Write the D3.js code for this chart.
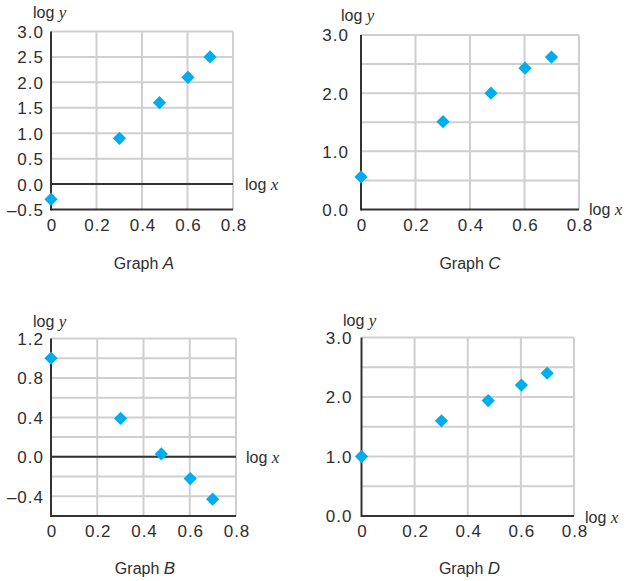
<!DOCTYPE html>
<html>
<head>
<meta charset="utf-8">
<script src="https://cdn.jsdelivr.net/npm/d3@7/dist/d3.min.js"></script>
<style>
  html, body { margin: 0; padding: 0; background: #fff; }
  svg { display: block; }
  .tick text { font-family: "Liberation Sans", Arial, sans-serif; }
</style>
</head>
<body>
<svg id="chart" width="628" height="581"></svg>
<script>
// ---------- data ----------
const logX = [0, 0.301, 0.477, 0.602, 0.699];
const graphA_logY = [-0.3, 0.9, 1.6, 2.1, 2.5];
const graphB_logY = [1.0, 0.39, 0.03, -0.22, -0.43];
const graphC_logY = [0.56, 1.51, 2.0, 2.43, 2.62];
const graphD_logY = [1.0, 1.6, 1.94, 2.2, 2.4];

const xTicks = [0, 0.2, 0.4, 0.6, 0.8];
const xTickLabels = ["0", "0.2", "0.4", "0.6", "0.8"];

const yGridA = [-0.5, 0, 0.5, 1.0, 1.5, 2.0, 2.5, 3.0];
const yTicksA = [-0.5, 0, 0.5, 1.0, 1.5, 2.0, 2.5, 3.0];
const yTickLabelsA = ["\u20130.5", "0.0", "0.5", "1.0", "1.5", "2.0", "2.5", "3.0"];

const yGridB = [-0.6, -0.4, -0.2, 0, 0.2, 0.4, 0.6, 0.8, 1.0, 1.2];
const yTicksB = [-0.4, 0, 0.4, 0.8, 1.2];
const yTickLabelsB = ["\u20130.4", "0.0", "0.4", "0.8", "1.2"];

const yGridCD = [0, 0.5, 1.0, 1.5, 2.0, 2.5, 3.0];
const yTicksCD = [0, 1, 2, 3];
const yTickLabelsCD = ["0.0", "1.0", "2.0", "3.0"];

const graphNames = ["A", "B", "C", "D"];

// ---------- layout ----------
const panels = [
  { name: graphNames[0], ys: graphA_logY, yDomain: [-0.5, 3.0], grid: yGridA, ticks: yTicksA, labels: yTickLabelsA,
    left: 51, right: 233, top: 31.5, bottom: 209.5, gap: 7, zero: true,
    logY: [33, 18], logXPos: [245, 190], title: [144, 268.5] },
  { name: graphNames[1], ys: graphB_logY, yDomain: [-0.6, 1.2], grid: yGridB, ticks: yTicksB, labels: yTickLabelsB,
    left: 51, right: 236, top: 338.5, bottom: 516, gap: 7, zero: true,
    logY: [33, 327], logXPos: [246, 463], title: [145, 573.5] },
  { name: graphNames[2], ys: graphC_logY, yDomain: [0, 3.0], grid: yGridCD, ticks: yTicksCD, labels: yTickLabelsCD,
    left: 361, right: 579, top: 35, bottom: 209.5, gap: 12, zero: false,
    logY: [341, 21], logXPos: [589, 215], title: [470, 268.5] },
  { name: graphNames[3], ys: graphD_logY, yDomain: [0, 3.0], grid: yGridCD, ticks: yTicksCD, labels: yTickLabelsCD,
    left: 361.5, right: 574, top: 337.5, bottom: 516, gap: 9, zero: false,
    logY: [343, 326], logXPos: [585, 523], title: [469.5, 573.5] }
];

const svg = d3.select("#chart");
const gridColor = "#cfcfcf";
const axisColor = "#333333";
const textColor = "#2e2e2e";
const markColor = "#00aeef";

panels.forEach(p => {
  const x = d3.scaleLinear().domain([0, 0.8]).range([p.left, p.right]);
  const y = d3.scaleLinear().domain(p.yDomain).range([p.bottom, p.top]);
  const g = svg.append("g");

  // gridlines
  g.selectAll("line.vgrid").data(xTicks.slice(1)).enter().append("line")
    .attr("x1", d => x(d)).attr("x2", d => x(d))
    .attr("y1", p.top).attr("y2", p.bottom)
    .attr("stroke", gridColor).attr("stroke-width", 2);
  g.selectAll("line.hgrid").data(p.grid.filter(v => v !== p.yDomain[0])).enter().append("line")
    .attr("x1", p.left).attr("x2", p.right)
    .attr("y1", d => y(d)).attr("y2", d => y(d))
    .attr("stroke", gridColor).attr("stroke-width", 2);

  // zero line
  if (p.zero) {
    g.append("line").attr("x1", p.left).attr("x2", p.right)
      .attr("y1", y(0)).attr("y2", y(0))
      .attr("stroke", axisColor).attr("stroke-width", 2);
  }
  // axes lines
  g.append("line").attr("x1", p.left).attr("x2", p.right)
    .attr("y1", p.bottom).attr("y2", p.bottom)
    .attr("stroke", axisColor).attr("stroke-width", 2);
  g.append("line").attr("x1", p.left).attr("x2", p.left)
    .attr("y1", p.top).attr("y2", p.bottom + 1)
    .attr("stroke", axisColor).attr("stroke-width", 2);

  // y tick labels
  const yAxis = d3.axisLeft(y).tickValues(p.ticks)
    .tickFormat((d, i) => p.labels[i]).tickSize(0).tickPadding(p.gap);
  const ya = g.append("g").attr("transform", `translate(${p.left},0)`).call(yAxis);
  ya.select(".domain").remove();
  ya.selectAll("text").attr("font-size", 17).attr("fill", textColor)
    .attr("letter-spacing", 1).attr("dy", "0.35em");

  // x tick labels
  const xAxis = d3.axisBottom(x).tickValues(xTicks)
    .tickFormat((d, i) => xTickLabels[i]).tickSize(0).tickPadding(9);
  const xa = g.append("g").attr("transform", `translate(0,${p.bottom})`).call(xAxis);
  xa.select(".domain").remove();
  xa.selectAll("text").attr("font-size", 17).attr("fill", textColor)
    .attr("letter-spacing", 1).attr("dx", 0.5);

  // diamonds
  const sym = d3.symbol().type(d3.symbolSquare).size(88);
  g.selectAll("path.pt").data(logX.map((lx, i) => [lx, p.ys[i]])).enter().append("path")
    .attr("d", sym)
    .attr("transform", d => `translate(${x(d[0])},${y(d[1])}) rotate(45)`)
    .attr("fill", markColor);

  // axis titles
  const ly = g.append("text").attr("x", p.logY[0]).attr("y", p.logY[1])
    .attr("font-size", 16).attr("fill", textColor);
  ly.append("tspan").attr("font-family", "Liberation Sans, Arial, sans-serif").text("log ");
  ly.append("tspan").attr("font-family", "Liberation Serif, Times New Roman, serif")
    .attr("font-style", "italic").attr("font-size", 17).text("y");

  const lx = g.append("text").attr("x", p.logXPos[0]).attr("y", p.logXPos[1])
    .attr("font-size", 16).attr("fill", textColor);
  lx.append("tspan").attr("font-family", "Liberation Sans, Arial, sans-serif").text("log ");
  lx.append("tspan").attr("font-family", "Liberation Serif, Times New Roman, serif")
    .attr("font-style", "italic").attr("font-size", 17).text("x");

  // graph title
  const t = g.append("text").attr("x", p.title[0]).attr("y", p.title[1])
    .attr("text-anchor", "middle").attr("font-size", 16).attr("fill", textColor)
    .attr("font-family", "Liberation Sans, Arial, sans-serif");
  t.append("tspan").text("Graph ");
  t.append("tspan").attr("font-style", "italic").attr("font-size", 17).text(p.name);
});
</script>
</body>
</html>
